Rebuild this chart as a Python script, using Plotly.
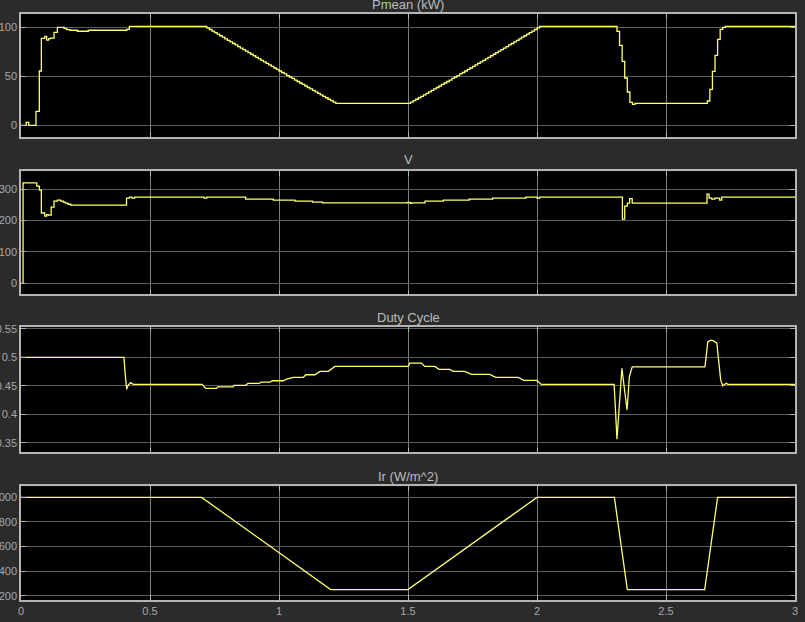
import plotly.graph_objects as go

# ---------------- data ----------------
p_time = [0, 0.02, 0.03, 0.058, 0.071, 0.079, 0.092, 0.0995, 0.107, 0.115, 0.128, 0.141,
          0.167, 0.177, 0.19, 0.218, 0.261, 0.41, 0.42,
          0.72, 0.73, 0.74, 0.75, 0.76, 0.77, 0.78, 0.79, 0.80, 0.81, 0.82, 0.83, 0.84, 0.85,
          0.86, 0.87, 0.88, 0.89, 0.90, 0.91, 0.92, 0.93, 0.94, 0.95, 0.96, 0.97, 0.98, 0.99,
          1.00, 1.01, 1.02, 1.03, 1.04, 1.05, 1.06, 1.07, 1.08, 1.09, 1.10, 1.11, 1.12, 1.13,
          1.14, 1.15, 1.16, 1.17, 1.18, 1.19, 1.20, 1.21, 1.22,
          1.51, 1.52, 1.53, 1.54, 1.55, 1.56, 1.57, 1.58, 1.59, 1.60, 1.61, 1.62, 1.63, 1.64,
          1.65, 1.66, 1.67, 1.68, 1.69, 1.70, 1.71, 1.72, 1.73, 1.74, 1.75, 1.76, 1.77, 1.78,
          1.79, 1.80, 1.81, 1.82, 1.83, 1.84, 1.85, 1.86, 1.87, 1.88, 1.89, 1.90, 1.91, 1.92,
          1.93, 1.94, 1.95, 1.96, 1.97, 1.98, 1.99, 2.00, 2.01,
          2.31, 2.32, 2.33, 2.34, 2.35, 2.36, 2.37, 2.38,
          2.66, 2.67, 2.68, 2.69, 2.70, 2.71, 2.72, 2.73, 3.0]
p_mean = [0, 3, 0, 14.3, 55.4, 88.8, 90.8, 87, 88.4, 89, 94.9, 100,
          99, 97.7, 97, 96, 97, 98, 101,
          99.4, 97.8, 96.2, 94.6, 93.0, 91.4, 89.9, 88.3, 86.7, 85.1, 83.5, 82.0, 80.4, 78.8,
          77.2, 75.7, 74.1, 72.5, 71.0, 69.4, 67.8, 66.3, 64.7, 63.2, 61.6, 60.1, 58.5, 57.0,
          55.4, 53.9, 52.4, 50.8, 49.3, 47.8, 46.2, 44.7, 43.2, 41.7, 40.1, 38.6, 37.1, 35.6,
          34.1, 32.6, 31.1, 29.6, 28.1, 26.6, 25.1, 23.6, 22.4,
          23.6, 25.1, 26.6, 28.1, 29.6, 31.1, 32.6, 34.1, 35.6, 37.1, 38.6, 40.1, 41.7, 43.2,
          44.7, 46.2, 47.8, 49.3, 50.8, 52.4, 53.9, 55.4, 57.0, 58.5, 60.1, 61.6, 63.2, 64.7,
          66.3, 67.8, 69.4, 71.0, 72.5, 74.1, 75.7, 77.2, 78.8, 80.4, 82.0, 83.5, 85.1, 86.7,
          88.3, 89.9, 91.4, 93.0, 94.6, 96.2, 97.8, 99.4, 101,
          95.9, 81.6, 65.3, 48.3, 34.0, 23.5, 21.4, 22.4,
          24.8, 36.7, 55.1, 71.4, 87.8, 98.0, 100, 101, 101]

v_time = [0, 0.008, 0.061, 0.071, 0.079, 0.092, 0.0995, 0.107, 0.117, 0.128, 0.141, 0.154,
          0.164, 0.172, 0.182, 0.193, 0.409, 0.42, 0.43, 0.44, 0.71, 0.72, 0.871, 0.978,
          1.062, 1.13, 1.169, 1.498, 1.508, 1.515, 1.566, 1.637, 1.737, 1.828, 1.957, 2.0,
          2.01, 2.331, 2.340, 2.350, 2.359, 2.369, 2.659, 2.667, 2.678, 2.689, 2.708, 2.716, 3.0]
v_val = [0, 320, 309.6, 297, 224, 213.8, 219, 217, 242.6, 261.7, 265, 262,
         258.5, 255.3, 252, 249, 271.3, 274.5, 271.3, 274.5, 271.3, 274.5, 268, 265,
         261.7, 258.5, 256.4, 258, 254.5, 256.4, 261.7, 265, 268, 271.3, 274.5, 271.3,
         274.5, 204.3, 245.7, 255.3, 270, 255.3, 284, 271.3, 268, 271.3, 265, 274.5, 274.5]

d_time = [0, 0.399, 0.404, 0.4095, 0.415, 0.425, 0.435, 0.702, 0.716, 0.758, 0.763, 0.822,
          0.826, 0.871, 0.88, 0.924, 0.93, 0.965, 0.975, 1.017, 1.03, 1.055, 1.094, 1.104,
          1.139, 1.159, 1.191, 1.217, 1.501, 1.507, 1.552, 1.565, 1.604, 1.62, 1.662, 1.675,
          1.72, 1.746, 1.817, 1.84, 1.927, 1.949, 1.999, 2.017, 2.299, 2.31, 2.329, 2.349,
          2.358, 2.369, 2.651, 2.658, 2.662, 2.673, 2.685, 2.697, 2.705, 2.712, 2.72, 2.733,
          2.74, 3.0]
d_val = [0.5, 0.5, 0.47, 0.4437, 0.451, 0.4555, 0.4525, 0.4525, 0.4455, 0.4455, 0.4483, 0.4483,
         0.4508, 0.4508, 0.4543, 0.4543, 0.4566, 0.4566, 0.4589, 0.4589, 0.462, 0.4648, 0.4648, 0.4695,
         0.4695, 0.4754, 0.4754, 0.4842, 0.4842, 0.49, 0.49, 0.4842, 0.4842, 0.4789, 0.4789, 0.4754,
         0.4754, 0.4701, 0.4701, 0.4648, 0.4648, 0.4595, 0.4595, 0.4525, 0.4525, 0.356, 0.4807, 0.4074,
         0.466, 0.4835, 0.4835, 0.515, 0.5274, 0.5304, 0.529, 0.525, 0.49, 0.46, 0.4501, 0.4545,
         0.4525, 0.4525]

ir_time = [0, 0.7, 1.2, 1.5, 2.0, 2.3, 2.35, 2.65, 2.7, 3.0]
ir_val = [1000, 1000, 250, 250, 1000, 1000, 250, 250, 1000, 1000]

titles = ["Pmean (kW)", "V", "Duty Cycle", "Ir (W/m^2)"]
x_ticks = [0, 0.5, 1, 1.5, 2, 2.5, 3]
x_ticklabels = ["0", "0.5", "1", "1.5", "2", "2.5", "3"]
y_ticks = [[0, 50, 100], [0, 100, 200, 300], [0.35, 0.4, 0.45, 0.5, 0.55], [200, 400, 600, 800, 1000]]
y_ticklabels = [["0", "50", "100"], ["0", "100", "200", "300"],
                ["0.35", "0.4", "0.45", "0.5", "0.55"], ["200", "400", "600", "800", "1000"]]

# ---------------- style ----------------
LINE = "#ffff70"
PAPER = "#2b2b2b"
FRAME = "#b4b4b4"
HGRID = "#5e5e5e"
VGRID = "#808080"
TICKFONT = dict(family="Liberation Sans, Arial, sans-serif", size=11, color="#a8a8a8")

y_ranges = [[-12, 113.6], [-35, 357], [0.333, 0.553], [165, 1090]]
domains = [[0.790, 1.0], [0.5217, 0.7316], [0.2520, 0.4654], [0.0, 0.194]]
title_y = [1.0165, 0.7509, 0.4829, 0.2116]

series = [(p_time, p_mean, "hv"), (v_time, v_val, "hv"), (d_time, d_val, "linear"), (ir_time, ir_val, "linear")]

fig = go.Figure()
layout = {}
for i, (xs, ys, shape) in enumerate(series):
    n = "" if i == 0 else str(i + 1)
    fig.add_trace(go.Scatter(x=xs, y=ys, mode="lines", line=dict(color=LINE, width=1.3, shape=shape),
                             xaxis="x" + n, yaxis="y" + n, showlegend=False, hoverinfo="skip"))
    layout["xaxis" + n] = dict(
        domain=[0, 1], range=[0, 3], anchor="y" + n,
        tickvals=x_ticks, ticktext=x_ticklabels,
        showticklabels=(i == 3), tickfont=TICKFONT,
        showgrid=True, gridcolor=VGRID, gridwidth=1, zeroline=False,
        showline=True, linecolor=FRAME, linewidth=1.5, mirror="allticks",
        ticks="inside", ticklen=5, tickcolor=FRAME, automargin=False,
    )
    layout["yaxis" + n] = dict(
        domain=domains[i], range=y_ranges[i], anchor="x" + n,
        tickvals=y_ticks[i], ticktext=y_ticklabels[i], tickfont=TICKFONT,
        showgrid=True, gridcolor=HGRID, gridwidth=1, zeroline=False,
        showline=True, linecolor=FRAME, linewidth=1.5, mirror="allticks",
        ticks="inside", ticklen=5, tickcolor=FRAME, automargin=False, ticklabelstandoff=0,
    )

annotations = [dict(text=t, x=0.5, y=ty, xref="paper", yref="paper", xanchor="center", yanchor="middle",
                    showarrow=False, font=dict(family="Liberation Sans, Arial, sans-serif", size=13, color="#bdbdbd"))
               for t, ty in zip(titles, title_y)]

fig.update_layout(
    width=805, height=622,
    margin=dict(l=21, r=10, t=14, b=22),
    paper_bgcolor=PAPER, plot_bgcolor="#000000",
    annotations=annotations,
    **layout,
)

fig.write_html(
    "out.html",
    config={"displayModeBar": False},
    post_script="document.body.style.margin='0';document.body.style.background='#2b2b2b';",
)
